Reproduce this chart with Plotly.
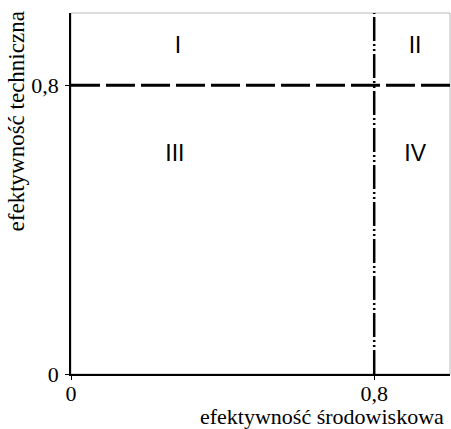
import plotly.graph_objects as go

# data
x_threshold = 0.8
y_threshold = 0.8
x_range = [0, 1]
y_range = [0, 1]
tick_vals = [0, 0.8]
tick_text = ["0", "0,8"]
quadrant_names = ["I", "II", "III", "IV"]
quadrant_x = [0.282, 0.908, 0.274, 0.908]
quadrant_y = [0.906, 0.906, 0.606, 0.606]
x_title = "efektywność środowiskowa"
y_title = "efektywność techniczna"

serif = "Liberation Serif"
sans = "Liberation Sans"

fig = go.Figure()

# horizontal threshold line
fig.add_trace(go.Scatter(
    x=x_range, y=[y_threshold, y_threshold], mode="lines",
    line=dict(color="black", width=3, dash="29px,6px"),
    hoverinfo="skip", showlegend=False))

# vertical threshold line
fig.add_trace(go.Scatter(
    x=[x_threshold, x_threshold], y=y_range, mode="lines",
    line=dict(color="black", width=2.5, dash="24px,3px,2px,3px,2px,3px"),
    hoverinfo="skip", showlegend=False))

# quadrant labels
fig.add_trace(go.Scatter(
    x=quadrant_x, y=quadrant_y, mode="text", text=quadrant_names,
    textfont=dict(family=sans, size=23, color="black"),
    textposition="middle center", hoverinfo="skip", showlegend=False))

axis_common = dict(
    showgrid=False, zeroline=False, showline=True, linecolor="black",
    linewidth=1.5, ticks="outside", ticklen=4, tickcolor="black",
    tickwidth=1, tickvals=tick_vals, ticktext=tick_text,
    tickfont=dict(family=serif, size=22, color="black"),
)

fig.update_layout(
    width=451, height=429,
    margin=dict(l=71, r=1, t=13, b=55, autoexpand=False),
    paper_bgcolor="white", plot_bgcolor="white",
    xaxis=dict(range=x_range, ticklabelstandoff=-5, **axis_common),
    yaxis=dict(range=y_range, ticklabelstandoff=2, **axis_common),
    shapes=[dict(type="rect", xref="paper", yref="paper", x0=0, x1=1, y0=0, y1=1,
                 line=dict(color="#b8b8b8", width=1), layer="below")],
    annotations=[
        dict(text=x_title, xref="paper", yref="paper", x=0.99, y=-0.117,
             xanchor="right", yanchor="middle", showarrow=False,
             font=dict(family=serif, size=22, color="black")),
        dict(text=y_title, xref="paper", yref="paper", x=-0.145, y=1.01,
             xanchor="center", yanchor="top", textangle=-90, showarrow=False,
             font=dict(family=serif, size=23, color="black")),
    ],
)

fig.write_html("out.html", config={"displayModeBar": False},
               post_script="document.body.style.margin='0px';document.body.style.padding='0px';")
